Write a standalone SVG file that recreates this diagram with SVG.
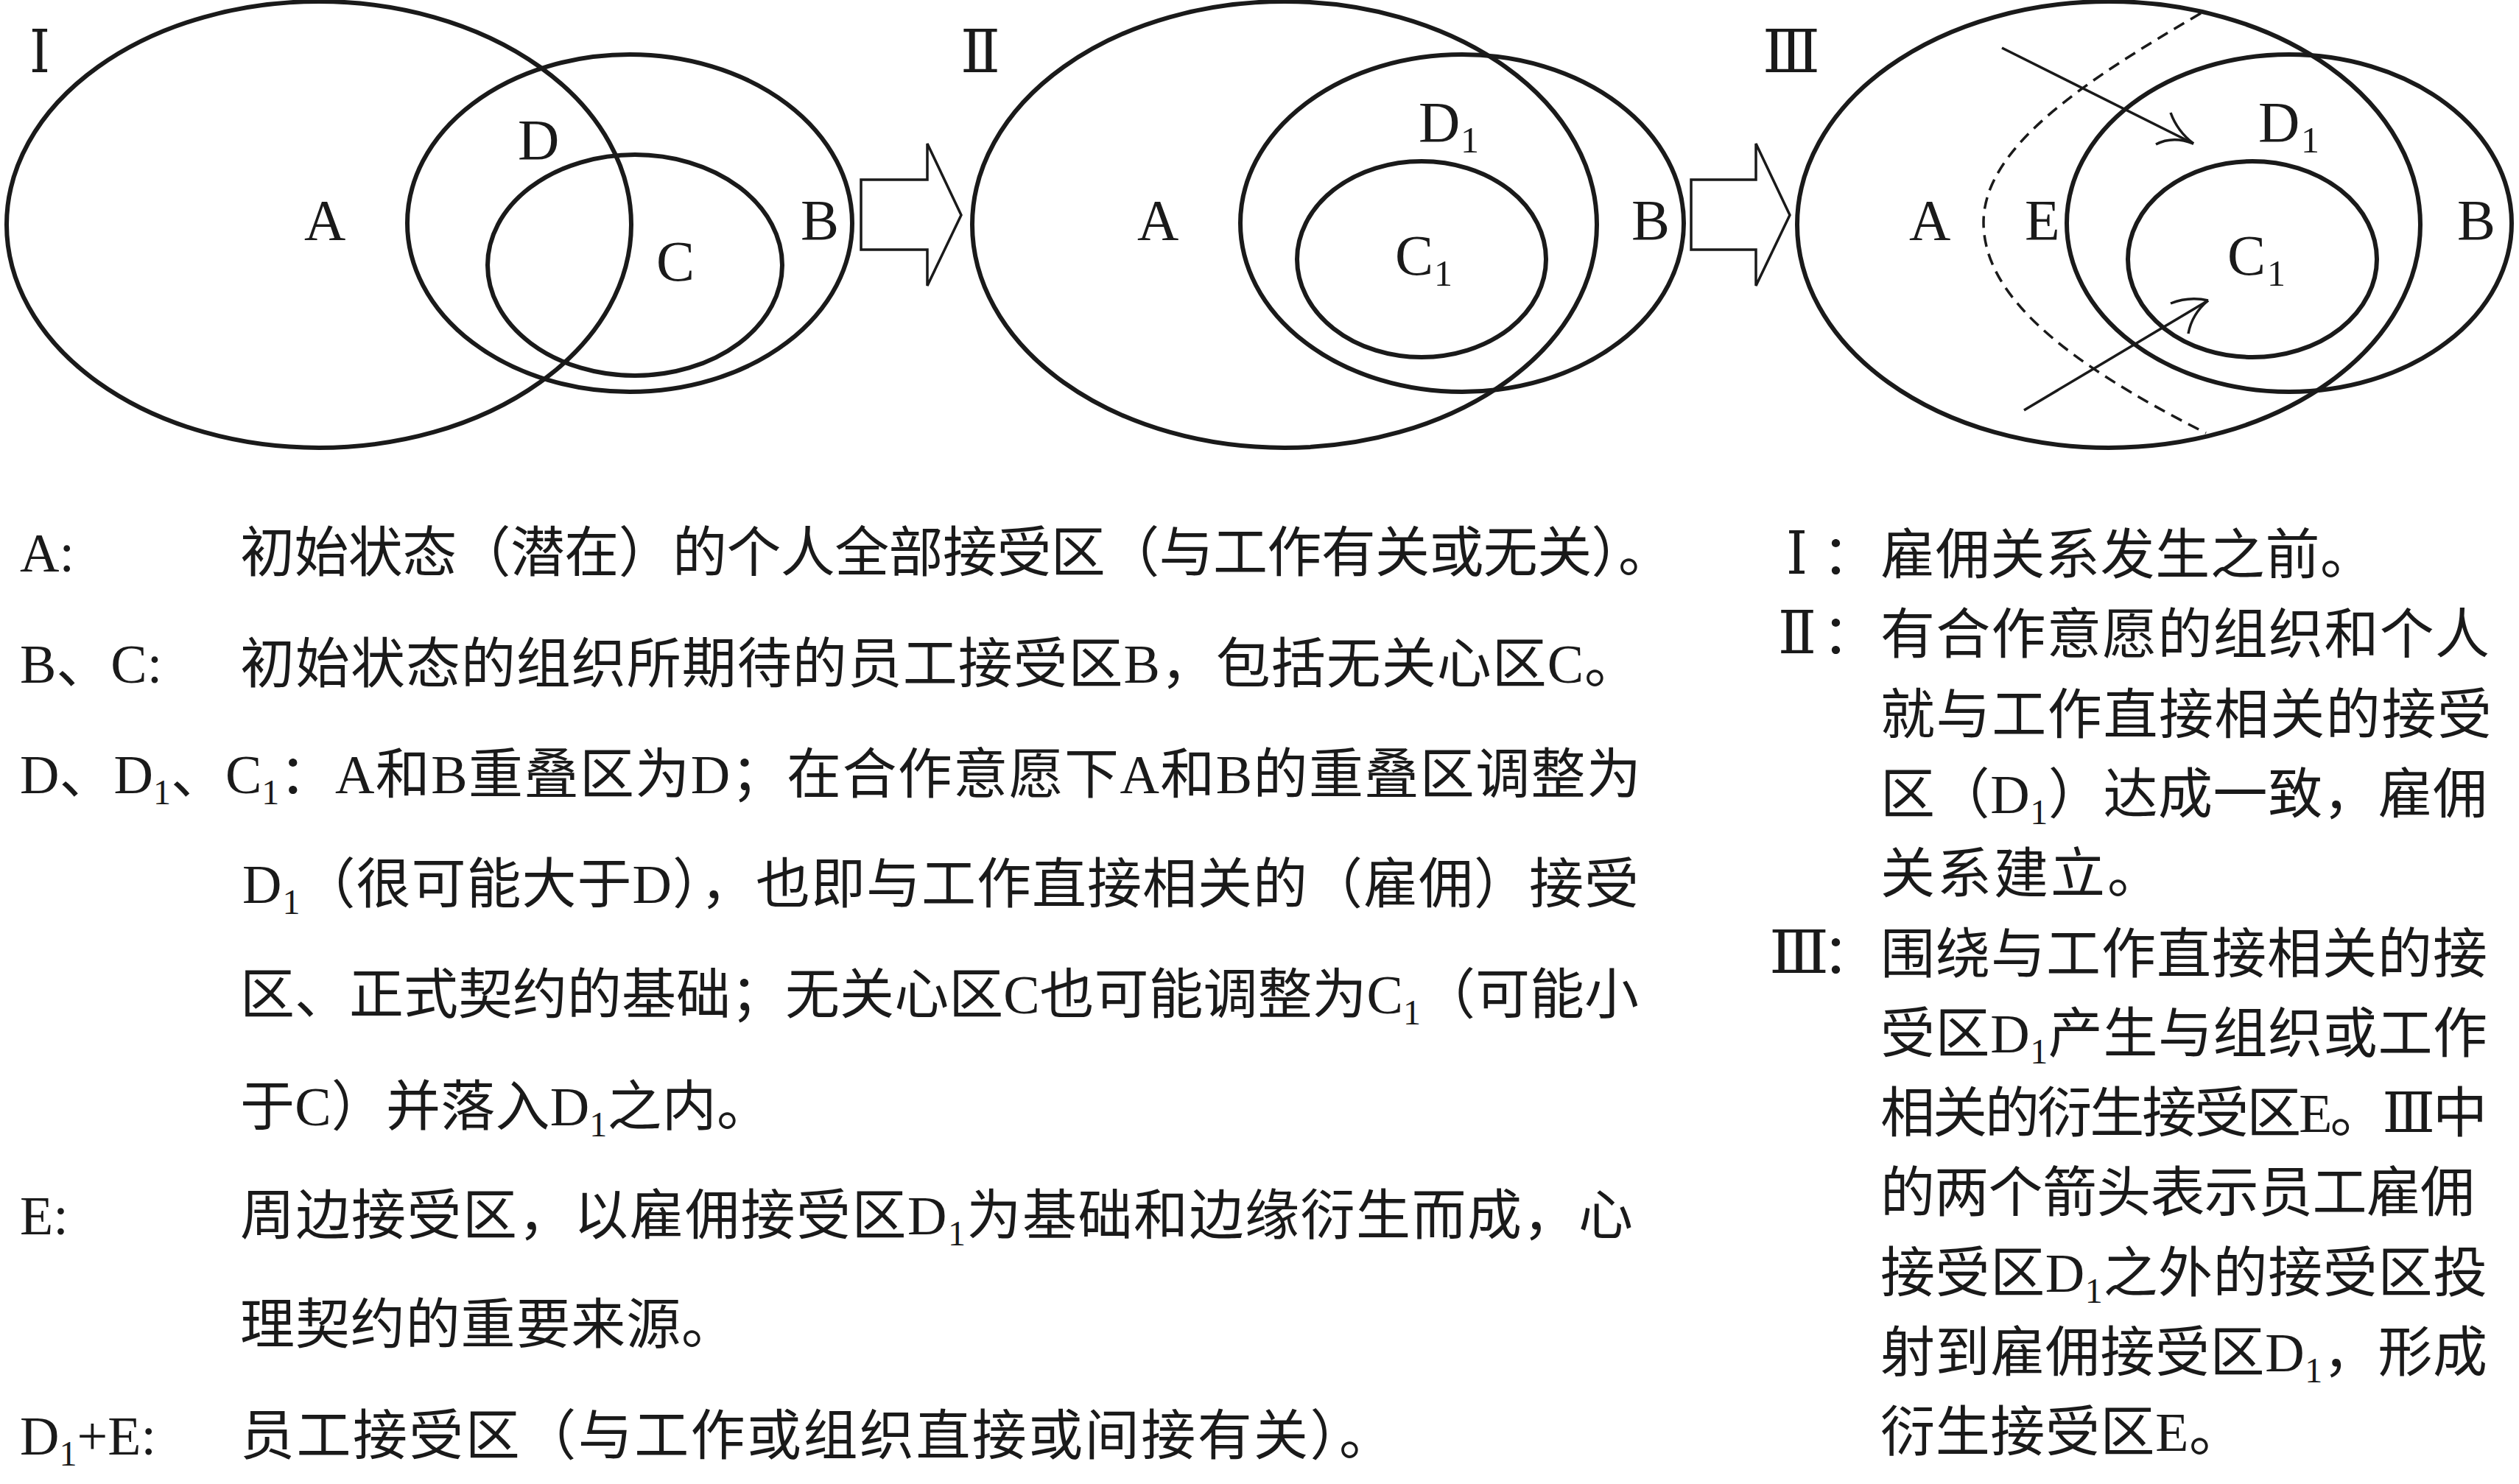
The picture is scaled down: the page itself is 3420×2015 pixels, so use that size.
<svg xmlns="http://www.w3.org/2000/svg" width="3420" height="2015" viewBox="0 0 3420 2015">
<style>
.ln{fill:none;stroke:#1a1a1a;stroke-width:6}
.thin{fill:none;stroke:#1a1a1a;stroke-width:3.5}
.dash{fill:none;stroke:#1a1a1a;stroke-width:3.5;stroke-dasharray:16 10}
.blk{fill:#fff;stroke:#1a1a1a;stroke-width:3.5;stroke-linejoin:miter}
.lbl{font-family:'Liberation Serif',serif;font-size:78px;fill:#1a1a1a}
.lsub{font-family:'Liberation Serif',serif;font-size:50px;fill:#1a1a1a}
.rn{font-family:'DejaVu Serif','Liberation Serif','Noto Sans CJK SC',serif;font-size:80px;fill:#1a1a1a}
.t{font-family:'Liberation Serif','Noto Sans CJK SC',serif;font-size:74px;fill:#1a1a1a}
.s{font-size:48px}
</style>
<rect width="3420" height="2015" fill="#fff"/>

<g id="panel-I">
<ellipse class="ln" cx="433" cy="305" rx="424" ry="303"/>
<ellipse class="ln" cx="855" cy="303" rx="302" ry="229"/>
<ellipse class="ln" cx="862" cy="360" rx="200" ry="150"/>
<text class="rn" x="40" y="98" textLength="28" lengthAdjust="spacingAndGlyphs">Ⅰ</text>
<text class="lbl" x="413" y="325">A</text>
<text class="lbl" x="703" y="216">D</text>
<text class="lbl" x="1087" y="325">B</text>
<text class="lbl" x="891" y="381">C</text>
</g>

<g id="panel-II">
<ellipse class="ln" cx="1744" cy="305" rx="424" ry="303"/>
<ellipse class="ln" cx="1985" cy="303" rx="301" ry="229"/>
<ellipse class="ln" cx="1930" cy="352" rx="169" ry="133"/>
<text class="rn" x="1304" y="98" textLength="54" lengthAdjust="spacingAndGlyphs">Ⅱ</text>
<text class="lbl" x="1544" y="325">A</text>
<text class="lbl" x="1926" y="192">D</text>
<text class="lsub" x="1983" y="207">1</text>
<text class="lbl" x="1894" y="373">C</text>
<text class="lsub" x="1947" y="388">1</text>
<text class="lbl" x="2215" y="325">B</text>
</g>

<g id="panel-III">
<ellipse class="ln" cx="2863" cy="305" rx="423" ry="303"/>
<ellipse class="ln" cx="3108" cy="303" rx="302" ry="229"/>
<ellipse class="ln" cx="3058" cy="352" rx="169" ry="133"/>
<path class="dash" d="M2988,18 C2830,110 2693,200 2693,302 C2693,400 2800,490 2995,588"/>
<text class="rn" x="2393" y="98" textLength="78" lengthAdjust="spacingAndGlyphs">Ⅲ</text>
<text class="lbl" x="2592" y="325">A</text>
<text class="lbl" x="2749" y="325">E</text>
<text class="lbl" x="3066" y="192">D</text>
<text class="lsub" x="3124" y="207">1</text>
<text class="lbl" x="3024" y="373">C</text>
<text class="lsub" x="3078" y="388">1</text>
<text class="lbl" x="3336" y="325">B</text>
</g>

<g id="connectors">
<polygon class="blk" points="1169,244 1259,244 1259,195 1305,292 1259,388 1259,339 1169,339"/>
<polygon class="blk" points="2296,244 2384,244 2384,195 2430,292 2384,388 2384,339 2296,339"/>
<path class="thin" d="M2718,65 L2978,195"/>
<path class="thin" d="M2947,153 Q2956,178 2978,195"/>
<path class="thin" d="M2927,196 Q2950,184 2978,195"/>
<path class="thin" d="M2748,557 L2998,408"/>
<path class="thin" d="M2947,412 Q2972,402 2998,408"/>
<path class="thin" d="M2971,453 Q2976,426 2998,408"/>
</g>

<g id="legend-left">
<text class="t" x="27" y="776">A:</text>
<text class="t" x="326" y="776" textLength="1945">初始状态（潜在）的个人全部接受区（与工作有关或无关）。</text>
<text class="t" x="27" y="927">B、C:</text>
<text class="t" x="326" y="927" textLength="1899">初始状态的组织所期待的员工接受区B，包括无关心区C。</text>
<text class="t" x="27" y="1077">D、D<tspan class="s" dy="15">1</tspan><tspan dy="-15">、C</tspan><tspan class="s" dy="15">1</tspan><tspan dy="-15">：</tspan></text>
<text class="t" x="455" y="1077" textLength="1773">A和B重叠区为D；在合作意愿下A和B的重叠区调整为</text>
<text class="t" x="329" y="1226" textLength="1896">D<tspan class="s" dy="15">1</tspan><tspan dy="-15">（很可能大于D），也即与工作直接相关的（雇佣）接受</tspan></text>
<text class="t" x="326" y="1376" textLength="1899">区、正式契约的基础；无关心区C也可能调整为C<tspan class="s" dy="15">1</tspan><tspan dy="-15">（可能小</tspan></text>
<text class="t" x="326" y="1528" textLength="721">于C）并落入D<tspan class="s" dy="15">1</tspan><tspan dy="-15">之内。</tspan></text>
<text class="t" x="27" y="1676">E:</text>
<text class="t" x="326" y="1676" textLength="1891">周边接受区，以雇佣接受区D<tspan class="s" dy="15">1</tspan><tspan dy="-15">为基础和边缘衍生而成，心</tspan></text>
<text class="t" x="326" y="1824" textLength="673">理契约的重要来源。</text>
<text class="t" x="27" y="1975">D<tspan class="s" dy="15">1</tspan><tspan dy="-15">+E:</tspan></text>
<text class="t" x="326" y="1975" textLength="1566">员工接受区（与工作或组织直接或间接有关）。</text>
</g>

<g id="legend-right">
<text class="rn" x="2425" y="779" textLength="29" lengthAdjust="spacingAndGlyphs">Ⅰ</text>
<text class="t" x="2474" y="779">：</text>
<text class="t" x="2553" y="779" textLength="671">雇佣关系发生之前。</text>
<text class="rn" x="2414" y="887" textLength="52" lengthAdjust="spacingAndGlyphs">Ⅱ</text>
<text class="t" x="2474" y="887">：</text>
<text class="t" x="2553" y="887" textLength="827">有合作意愿的组织和个人</text>
<text class="t" x="2553" y="996" textLength="830">就与工作直接相关的接受</text>
<text class="t" x="2553" y="1104" textLength="824">区（D<tspan class="s" dy="15">1</tspan><tspan dy="-15">）达成一致，雇佣</tspan></text>
<text class="t" x="2553" y="1212" textLength="382">关系建立。</text>
<text class="rn" x="2402" y="1321" textLength="81" lengthAdjust="spacingAndGlyphs">Ⅲ</text>
<text class="t" x="2474" y="1321">：</text>
<text class="t" x="2553" y="1321" textLength="824">围绕与工作直接相关的接</text>
<text class="t" x="2553" y="1429" textLength="824">受区D<tspan class="s" dy="15">1</tspan><tspan dy="-15">产生与组织或工作</tspan></text>
<text class="t" x="2553" y="1537" textLength="824">相关的衍生接受区E。<tspan style="font-family:'DejaVu Serif','Noto Sans CJK SC',serif">Ⅲ</tspan>中</text>
<text class="t" x="2553" y="1645" textLength="807">的两个箭头表示员工雇佣</text>
<text class="t" x="2553" y="1754" textLength="824">接受区D<tspan class="s" dy="15">1</tspan><tspan dy="-15">之外的接受区投</tspan></text>
<text class="t" x="2553" y="1862" textLength="824">射到雇佣接受区D<tspan class="s" dy="15">1</tspan><tspan dy="-15">，形成</tspan></text>
<text class="t" x="2553" y="1970" textLength="493">衍生接受区E。</text>
</g>
</svg>
